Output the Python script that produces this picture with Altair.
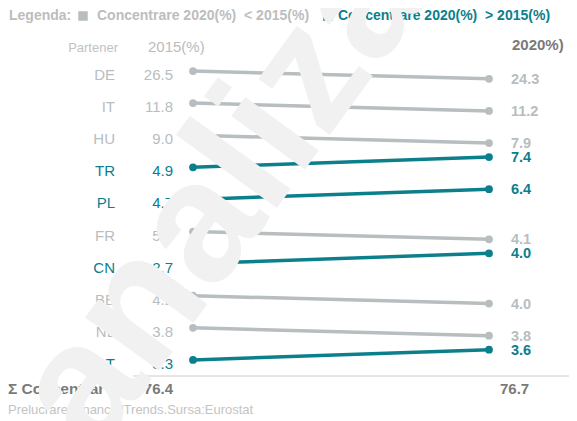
import altair as alt
import pandas as pd

# ---- data ----
partners = ["DE", "IT", "HU", "TR", "PL", "FR", "CN", "BE", "NL", "AT"]
v2015 = [26.5, 11.8, 9.0, 4.9, 4.7, 5.5, 2.7, 4.2, 3.8, 3.3]
v2020 = [24.3, 11.2, 7.9, 7.4, 6.4, 4.1, 4.0, 4.0, 3.8, 3.6]
total_2015 = 76.4
total_2020 = 76.7
years = [2015, 2020]

GRAY = "#b8bdc0"
GRAY_TXT = "#bdbdbd"
TEAL = "#0b808c"
DARK = "#7a7a7a"
FONT = "Liberation Sans"
NB = "\u00a0"

# ---- build tables ----
rows = []
for i, (p, a, b) in enumerate(zip(partners, v2015, v2020)):
    d = "up" if b > a else "down"
    shift = -0.32 if d == "up" else 0.245  # stylistic slope of the row
    rows.append({"partner": p, "year": years[0], "pos": i, "val": a, "dir": d})
    rows.append({"partner": p, "year": years[1], "pos": i + shift, "val": b, "dir": d})
df = pd.DataFrame(rows)
df["label"] = df["val"].map(lambda v: f"{v:.1f}")

W, H = 561, 400
xs = alt.Scale(domain=[2015, 2020], range=[185, 481])
ys = alt.Scale(domain=[-1.807, 10.654], range=[0, H])
cs = alt.Scale(domain=["down", "up"], range=[GRAY, TEAL])
tcs = alt.Scale(domain=["down", "up"], range=[GRAY_TXT, TEAL])

base = alt.Chart(df)

lines = base.mark_line(strokeWidth=3.5).encode(
    x=alt.X("year:Q", scale=xs, axis=None),
    y=alt.Y("pos:Q", scale=ys, axis=None),
    detail="partner:N",
    color=alt.Color("dir:N", scale=cs, legend=None),
)
points = base.mark_circle(size=60, opacity=1).encode(
    x=alt.X("year:Q", scale=xs, axis=None),
    y=alt.Y("pos:Q", scale=ys, axis=None),
    color=alt.Color("dir:N", scale=cs, legend=None),
)

left = base.transform_filter(alt.datum.year == 2015)
right = base.transform_filter(alt.datum.year == 2020)

part_txt = left.mark_text(align="right", baseline="middle", dy=4, fontSize=15, font=FONT).encode(
    x=alt.value(107),
    y=alt.Y("pos:Q", scale=ys, axis=None),
    text="partner:N",
    color=alt.Color("dir:N", scale=tcs, legend=None),
)
v15_txt = left.mark_text(align="right", baseline="middle", dy=4, fontSize=15, font=FONT).encode(
    x=alt.value(165),
    y=alt.Y("pos:Q", scale=ys, axis=None),
    text="label:N",
    color=alt.Color("dir:N", scale=tcs, legend=None),
)
v20_txt = right.mark_text(align="left", baseline="middle", dy=1, fontSize=14.5, fontWeight="bold", font=FONT).encode(
    x=alt.value(503),
    y=alt.Y("pos:Q", scale=ys, axis=None),
    text="label:N",
    color=alt.Color("dir:N", scale=tcs, legend=None),
)


def txt(text, x, y, size, color, weight="normal", align="left"):
    return alt.Chart(pd.DataFrame({"t": [text]})).mark_text(
        align=align, baseline="middle", fontSize=size, fontWeight=weight, color=color, font=FONT
    ).encode(x=alt.value(x), y=alt.value(y), text="t:N")


def square(x, y, color):
    return alt.Chart(pd.DataFrame({"t": [0]})).mark_square(size=90, opacity=1, color=color).encode(
        x=alt.value(x), y=alt.value(y)
    )


legend = [
    txt("Legenda:", 1, 3, 14, GRAY_TXT, "bold"),
    square(75, 3, GRAY),
    txt(f"Concentrare 2020(%){NB}{NB}<{NB}2015(%)", 89, 3, 14, GRAY_TXT, "bold"),
    square(320, 3, TEAL),
    txt(f"Concentrare 2020(%){NB}{NB}>{NB}2015(%)", 330, 3, 14, TEAL, "bold"),
]
headers = [
    txt("Partener", 110, 35, 13, "#c2c2c2", align="right"),
    txt("2015(%)", 140, 34, 15, "#bcbcbc"),
    txt("2020%)", 504, 32, 15, DARK, "bold"),
]
sep = alt.Chart(pd.DataFrame({"t": [0]})).mark_rule(color="#cccccc", strokeWidth=1).encode(
    x=alt.value(125), x2=alt.value(569), y=alt.value(363)
)
totals = [
    txt("Σ Concentrar", 0, 376, 15.5, DARK, "bold"),
    txt(f"{total_2015:.1f}", 165, 376, 15, DARK, "bold", align="right"),
    txt(f"{total_2020:.1f}", 492, 376, 15, DARK, "bold"),
]
footer = txt("Prelucrare:FinancialTrends.Sursa:Eurostat", 0, 397, 13, "#c4c4c4")

watermark = alt.Chart(pd.DataFrame({"t": ["analiza"]})).mark_text(
    align="center", baseline="middle", fontSize=172, angle=306, color="#f1f1f1",
    font=FONT, fontWeight="bold"
).encode(x=alt.value(214), y=alt.value(182), text="t:N")

chart = alt.layer(
    lines, points, part_txt, v15_txt, v20_txt, *legend, *headers, sep, *totals, footer, watermark
).properties(
    width=W, height=H,
    padding={"left": 0, "top": 5, "right": 0, "bottom": 8},
    autosize=alt.AutoSizeParams(type="none"),
).configure_view(stroke=None)

chart.save("out.html", embed_options={"renderer": "svg", "actions": False})
